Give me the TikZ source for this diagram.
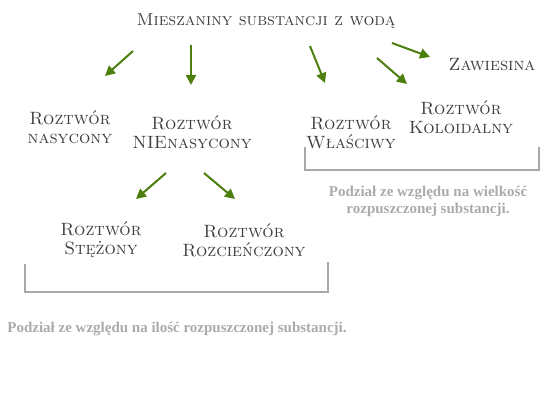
\documentclass[tikz,border=0pt]{standalone}
\usepackage{fontspec}
\newfontfamily\grayfont{Liberation Serif}
\usetikzlibrary{arrows.meta}
\definecolor{arrgreen}{HTML}{4C7F0E}
\definecolor{txtgray}{HTML}{3E3E3E}
\definecolor{brgray}{HTML}{A8A8A8}
\definecolor{notegray}{HTML}{ABABAB}
\tikzset{
  lbl/.style={text=txtgray, align=center, inner sep=0pt, font=\scshape\fontsize{17.8}{19}\selectfont},
  ttl/.style={text=txtgray, inner sep=0pt, font=\scshape\fontsize{17.2}{20}\selectfont},
  note/.style={text=notegray, align=center, inner sep=0pt, font=\grayfont\bfseries\fontsize{15}{17}\selectfont},
  arr/.style={draw=arrgreen, line width=2pt, -{Triangle[width=10pt,length=10pt]}},
  bracket/.style={draw=brgray, line width=2pt}
}
\begin{document}
\begin{tikzpicture}[x=1pt,y=-1pt]
\useasboundingbox[fill=white] (0,0) rectangle (550,400);
\node[ttl] (title) at (266,21) {Mieszaniny substancji z wodą};
\node[lbl] (nas) at (70,127) {Roztwór\\nasycony};
\node[lbl] (nienas) at (192,132) {Roztwór\\NIEnasycony};
\node[lbl] (zaw) at (492,65) {Zawiesina};
\node[lbl] (wl) at (351,132) {Roztwór\\Właściwy};
\node[lbl] (kol) at (461,117) {Roztwór\\Koloidalny};
\node[lbl] (ste) at (101,240) {Roztwór\\Stężony};
\node[lbl] (roz) at (244,240) {Roztwór\\Rozcieńczony};
\node[note] (note1) at (428,201) {Podział ze względu na wielkość\\rozpuszczonej substancji.};
\node[note] (note2) at (177,329) {Podział ze względu na ilość rozpuszczonej substancji.};
% arrows
\coordinate (a1s) at (133,51); \coordinate (a1e) at (105,76);
\coordinate (a2s) at (191,45); \coordinate (a2e) at (191,85);
\coordinate (a3s) at (310,46); \coordinate (a3e) at (325,83);
\coordinate (a4s) at (392,43); \coordinate (a4e) at (430,57);
\coordinate (a5s) at (377,58); \coordinate (a5e) at (407,84);
\coordinate (a6s) at (166,173); \coordinate (a6e) at (136,199);
\coordinate (a7s) at (204,173); \coordinate (a7e) at (235,199);
\foreach \i in {1,...,7} {\draw[arr] (a\i s) -- (a\i e);}
% brackets
\coordinate (b1a) at (25,264); \coordinate (b1b) at (25,292);
\coordinate (b1c) at (328,292); \coordinate (b1d) at (328,262);
\draw[bracket] (b1a) -- (b1b) -- (b1c) -- (b1d);
\coordinate (b2a) at (305,147); \coordinate (b2b) at (305,170);
\coordinate (b2c) at (539,170); \coordinate (b2d) at (539,147);
\draw[bracket] (b2a) -- (b2b) -- (b2c) -- (b2d);
\end{tikzpicture}
\end{document}
